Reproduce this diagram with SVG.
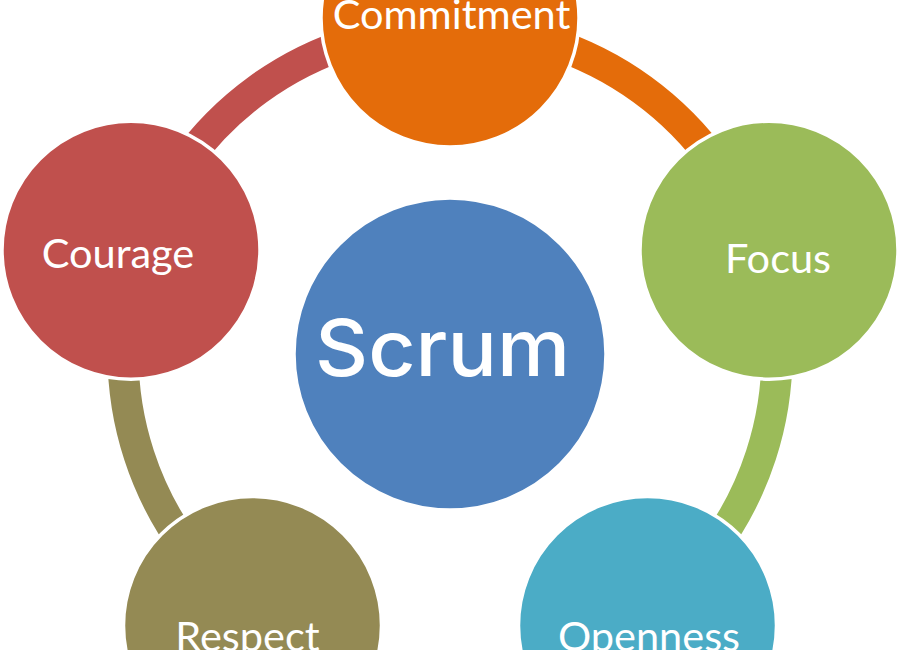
<svg xmlns="http://www.w3.org/2000/svg" width="900" height="650" viewBox="0 0 900 650">
<style>
.arc{fill:none;stroke-width:31}
.node{stroke:#ffffff;stroke-width:3.5}
.lbl{font-family:Lato,"Liberation Sans",sans-serif;font-size:41.5px;fill:#ffffff;text-anchor:middle}
.big{font-family:Inter,"Liberation Sans",sans-serif;font-weight:500;font-size:78px;fill:#ffffff;text-anchor:middle}
</style>
<rect width="900" height="650" fill="#ffffff"/>
<g id="connectors">
<path class="arc" stroke="#E46C0A" d="M450,27 A327,327 0 0 1 761,252.95"/>
<path class="arc" stroke="#9BBB59" d="M761,252.95 A327,327 0 0 1 642.2,618.55"/>
<path class="arc" stroke="#4BACC6" d="M642.2,618.55 A327,327 0 0 1 257.8,618.55"/>
<path class="arc" stroke="#948A54" d="M257.8,618.55 A327,327 0 0 1 139,252.95"/>
<path class="arc" stroke="#C0504D" d="M139,252.95 A327,327 0 0 1 450,27"/>
</g>
<g id="scrum">
<circle class="node" cx="450" cy="354" r="156" fill="#4F81BD"/>
<text class="big" x="442.5" y="376" textLength="255" lengthAdjust="spacingAndGlyphs">Scrum</text>
</g>
<g id="commitment">
<circle class="node" cx="450" cy="18" r="129" fill="#E46C0A"/>
<text class="lbl" x="451.5" y="28.5">Commitment</text>
</g>
<g id="focus">
<circle class="node" cx="769" cy="250.2" r="129" fill="#9BBB59"/>
<text class="lbl" x="778" y="273">Focus</text>
</g>
<g id="openness">
<circle class="node" cx="647.5" cy="625.5" r="129" fill="#4BACC6"/>
<text class="lbl" x="649" y="651">Openness</text>
</g>
<g id="respect">
<circle class="node" cx="252.5" cy="625.5" r="129" fill="#948A54"/>
<text class="lbl" x="247.5" y="651">Respect</text>
</g>
<g id="courage">
<circle class="node" cx="131" cy="250.2" r="129" fill="#C0504D"/>
<text class="lbl" x="118" y="268">Courage</text>
</g>
</svg>
